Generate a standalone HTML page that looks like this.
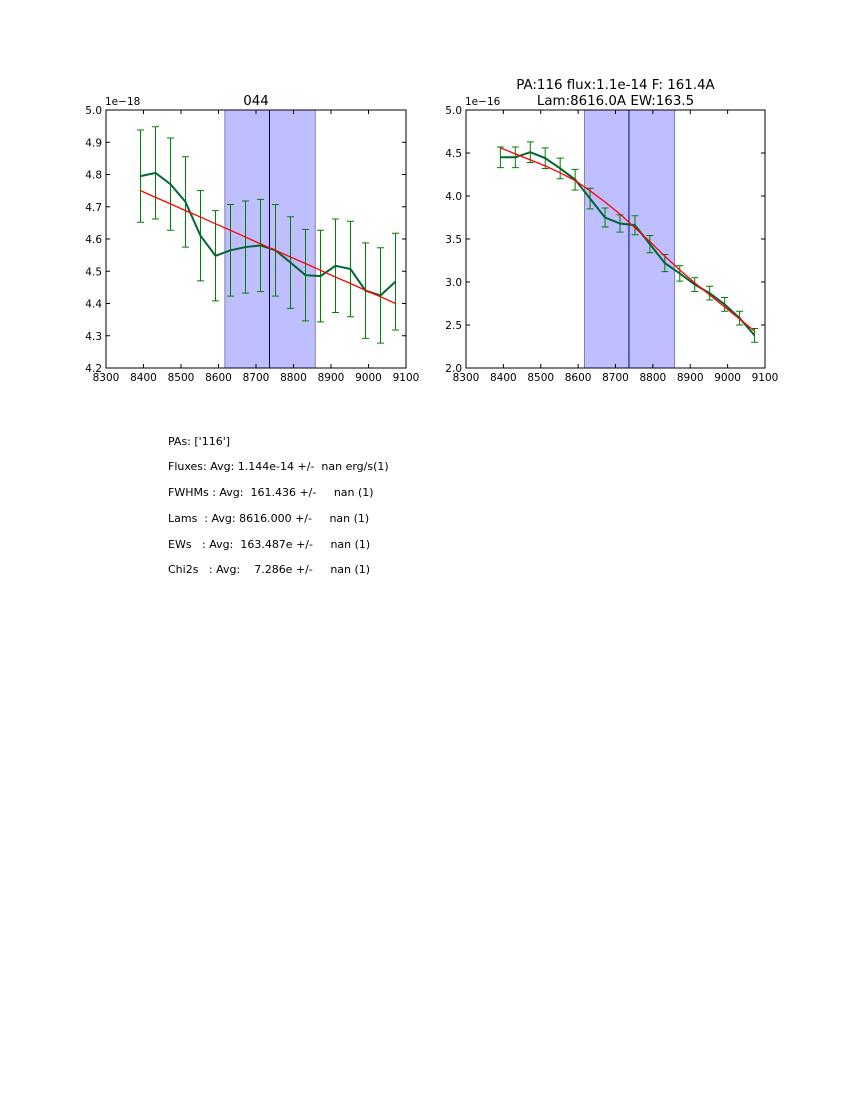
<!DOCTYPE html>
<html><head><meta charset="utf-8"><style>
body{margin:0;background:#fff;}
svg text{font-family:"DejaVu Sans","Liberation Sans",sans-serif;}
.info{position:absolute;left:168px;font:11px "DejaVu Sans","Liberation Sans",sans-serif;white-space:pre;color:#000;}
</style></head><body>
<div style="position:relative;width:850px;height:1100px;">
<svg id="svg" width="850" height="1100" style="position:absolute;left:0;top:0"></svg>
<div class="info" style="top:435px">PAs: ['116']</div>
<div class="info" style="top:460px">Fluxes: Avg: 1.144e-14 +/-  nan erg/s(1)</div>
<div class="info" style="top:486px">FWHMs : Avg:  161.436 +/-     nan (1)</div>
<div class="info" style="top:512px">Lams  : Avg: 8616.000 +/-     nan (1)</div>
<div class="info" style="top:538px">EWs   : Avg:  163.487e +/-     nan (1)</div>
<div class="info" style="top:563px">Chi2s   : Avg:    7.286e +/-     nan (1)</div>
</div>
<script>
const wavelengths=[8392,8432,8472,8512,8552,8592,8632,8672,8712,8752,8792,8832,8872,8912,8952,8992,9032,9072];
const leftFlux=[4.795,4.805,4.77,4.715,4.61,4.548,4.565,4.575,4.58,4.565,4.527,4.488,4.485,4.517,4.507,4.44,4.425,4.468];
const leftErr=[0.143,0.143,0.143,0.14,0.14,0.14,0.142,0.143,0.143,0.142,0.142,0.142,0.142,0.145,0.148,0.148,0.148,0.15];
const leftFit=[4.75,4.729,4.709,4.688,4.668,4.647,4.627,4.606,4.585,4.565,4.544,4.524,4.503,4.482,4.462,4.441,4.421,4.40];
const rightFlux=[4.45,4.45,4.51,4.44,4.32,4.19,3.97,3.75,3.68,3.66,3.44,3.22,3.10,2.97,2.87,2.74,2.58,2.38];
const rightErr=[0.12,0.12,0.12,0.12,0.12,0.12,0.12,0.11,0.1,0.11,0.1,0.1,0.09,0.08,0.08,0.08,0.08,0.08];
const rightFit=[4.56,4.49,4.42,4.35,4.27,4.18,4.06,3.93,3.79,3.63,3.47,3.30,3.14,2.99,2.85,2.71,2.57,2.43];
const xTicks=[8300,8400,8500,8600,8700,8800,8900,9000,9100];
const leftYTicks=[4.2,4.3,4.4,4.5,4.6,4.7,4.8,4.9,5.0];
const rightYTicks=[2.0,2.5,3.0,3.5,4.0,4.5,5.0];
const spanLo=8617, spanHi=8858, centerLine=8736;
const NS='http://www.w3.org/2000/svg';
const svg=document.getElementById('svg');
function mk(tag,attrs,parent){const e=document.createElementNS(NS,tag);for(const k in attrs)e.setAttribute(k,attrs[k]);(parent||svg).appendChild(e);return e;}
function panel(name,L,T,W,H,ymin,ymax,yTicks,flux,err,fit,expo,titleLines){
  const g=mk('g',{});
  
  
  const X=v=>L+(v-8300)/800*W, Y=v=>T+H-(v-ymin)/(ymax-ymin)*H;
  const sp=mk('rect',{x:X(spanLo),y:T,width:X(spanHi)-X(spanLo),height:H,fill:'#bfbfff',stroke:'#8080b0','stroke-width':1},g);
  
  
  const cl=mk('line',{x1:X(centerLine),x2:X(centerLine),y1:T,y2:T+H,stroke:'#000080','stroke-width':1},g);
  
  
  wavelengths.forEach((w,i)=>{
    const x=X(w),y1=Y(flux[i]-err[i]),y2=Y(flux[i]+err[i]);
    const eb=mk('path',{d:`M${x},${y1}V${y2}M${x-3.5},${y1}H${x+3.5}M${x-3.5},${y2}H${x+3.5}`,stroke:'#008000','stroke-width':1,fill:'none'},g);
    
    
  });
  const dl=mk('polyline',{points:wavelengths.map((w,i)=>X(w)+','+Y(flux[i])).join(' '),fill:'none',stroke:'#006633','stroke-width':2},g);
  
  
  const fl=mk('polyline',{points:wavelengths.map((w,i)=>X(w)+','+Y(fit[i])).join(' '),fill:'none',stroke:'#ff0000','stroke-width':1.3},g);
  
  
  mk('rect',{x:L,y:T,width:W,height:H,fill:'none',stroke:'#000','stroke-width':1},g);
  xTicks.forEach(t=>{const x=X(t);
    mk('path',{d:`M${x},${T+H}v-4M${x},${T}v4`,stroke:'#000'},g);
    const tx=mk('text',{x:x,y:T+H+13,'font-size':10.5,'text-anchor':'middle'},g);tx.textContent=t;
    
    });
  yTicks.forEach(t=>{const y=Y(t);
    mk('path',{d:`M${L},${y}h4M${L+W},${y}h-4`,stroke:'#000'},g);
    const tx=mk('text',{x:L-4,y:y+4,'font-size':10.5,'text-anchor':'end'},g);tx.textContent=t.toFixed(1);
    
    });
  const ex=mk('text',{x:L-1,y:T-5,'font-size':10.5},g);ex.textContent=expo;
  
  
  titleLines.forEach((s,i)=>{const tt=mk('text',{x:L+W/2,y:T-5-(titleLines.length-1-i)*16,'font-size':13.4,'text-anchor':'middle'},g);tt.textContent=s;
    
    });
}
panel('left-panel',106,110,300,258,4.2,5.0,leftYTicks,leftFlux,leftErr,leftFit,'1e\u221218',['044']);
panel('right-panel',466,110,299,258,2.0,5.0,rightYTicks,rightFlux,rightErr,rightFit,'1e\u221216',['PA:116 flux:1.1e-14 F: 161.4A','Lam:8616.0A EW:163.5']);
</script>
</body></html>
